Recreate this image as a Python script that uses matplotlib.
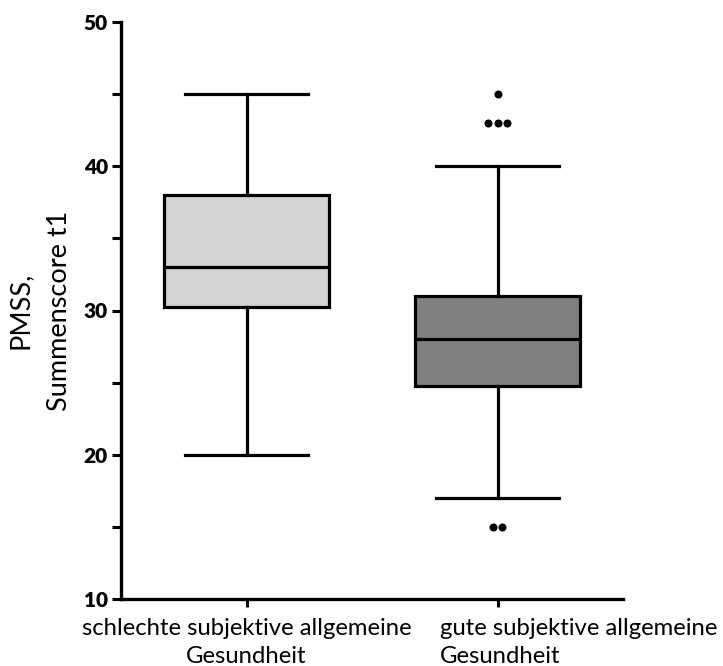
import numpy as np
import matplotlib
matplotlib.use("Agg")
import matplotlib.pyplot as plt

# ---- data ----
groups = ["schlechte subjektive allgemeine\nGesundheit", "gute subjektive allgemeine\nGesundheit"]
medians = [33, 28]
q1 = [30.25, 24.75]
q3 = [38, 31]
whislo = [20, 17]
whishi = [45, 40]
outliers = [[], [45, 43, 43, 43, 15, 15]]
fill_colors = ["#d3d3d3", "#808080"]
y_major = [10, 20, 30, 40, 50]
y_minor = [15, 25, 35, 45]

FONT = "Lato"
plt.rcParams['font.family'] = [FONT, 'DejaVu Sans']

fig = plt.figure(figsize=(7.23, 6.66), dpi=100)
ax = fig.add_axes([121/723, 1-599/666, (623-121)/723, (599-22)/666])

positions = np.arange(1, len(groups) + 1)
stats = []
for i in range(len(groups)):
    stats.append(dict(med=medians[i], q1=q1[i], q3=q3[i], whislo=whislo[i],
                      whishi=whishi[i], fliers=[]))

lw = 2.3
bp = ax.bxp(stats, positions=positions, widths=0.66, patch_artist=True,
            showfliers=False, capwidths=0.49,
            boxprops=dict(linewidth=lw, edgecolor="black"),
            whiskerprops=dict(linewidth=lw, color="black"),
            capprops=dict(linewidth=lw, color="black"),
            medianprops=dict(linewidth=lw, color="black"))
for patch, c in zip(bp['boxes'], fill_colors):
    patch.set_facecolor(c)

# outliers, spread side by side like a column scatter
spacing = 0.039
for pos, vals in zip(positions, outliers):
    if not vals:
        continue
    uniq = sorted(set(vals))
    for v in uniq:
        n = vals.count(v)
        offs = (np.arange(n) - (n - 1) / 2) * spacing
        ax.plot(pos + offs, [v] * n, 'o', color="black", markersize=5.8,
                markeredgewidth=0, zorder=5)

ax.set_xlim(0.5, 2.5)
ax.set_ylim(10, 50)
for s in ["top", "right"]:
    ax.spines[s].set_visible(False)
for s in ["left", "bottom"]:
    ax.spines[s].set_linewidth(2.4)

ax.set_yticks(y_major)
ax.set_yticks(y_minor, minor=True)
ax.set_yticklabels([str(v) for v in y_major], fontsize=15, fontweight="heavy")
ax.tick_params(axis="y", which="both", length=6.5, width=2.2, pad=3)
ax.tick_params(axis="x", which="major", length=6, width=2.2, pad=8)

ax.set_xticks(positions)
ax.set_xticklabels([groups[0], ""], fontsize=17.2, linespacing=1.4)

# second category label, left-aligned as in the reference
ax.annotate(groups[1], xy=(positions[1], 0), xycoords=("data", "axes fraction"),
            xytext=(-58, -19.4), textcoords="offset pixels", ha="left", va="top",
            fontsize=17.2, linespacing=1.4, annotation_clip=False)

ax.set_ylabel("PMSS,\nSummenscore t1", fontsize=19.5, linespacing=1.7)
ax.yaxis.set_label_coords(-0.098, 0.5)

fig.savefig("out.png", dpi=100)
